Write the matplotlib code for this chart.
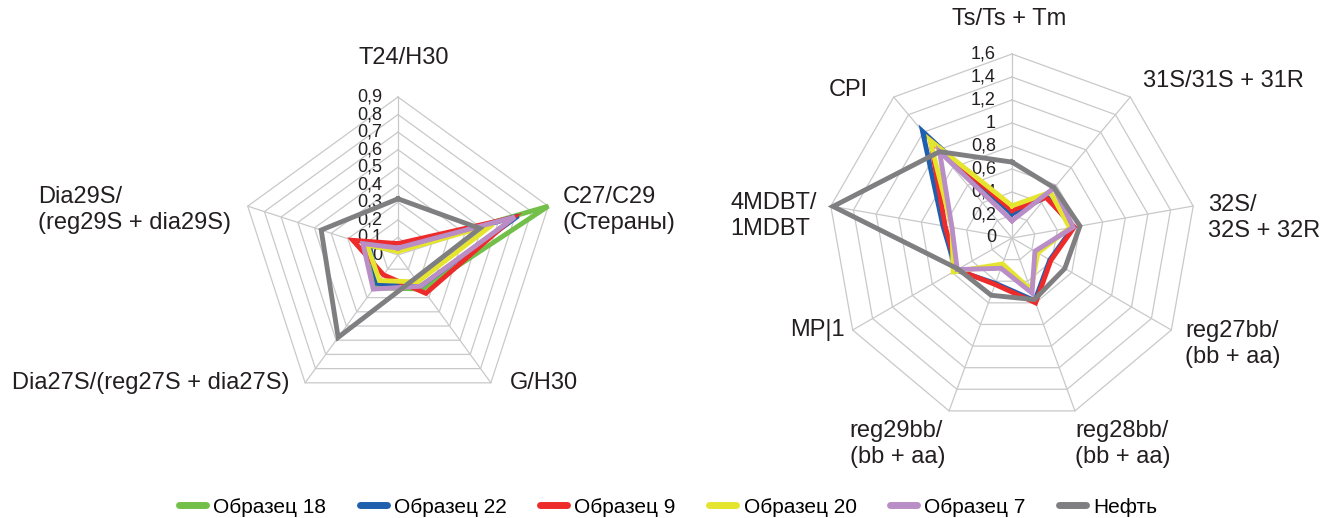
import numpy as np
import matplotlib
matplotlib.use('Agg')
import matplotlib.pyplot as plt
from matplotlib.lines import Line2D
from matplotlib.transforms import offset_copy

plt.rcParams['font.family'] = ['Liberation Sans', 'DejaVu Sans']

# ---- data -------------------------------------------------------------
series_names = ['Образец 18', 'Образец 22', 'Образец 9', 'Образец 20', 'Образец 7', 'Нефть']
series_colors = ['#72bf4a', '#1f5fae', '#ed2b2b', '#e5e52f', '#b98dc6', '#7f7f81']

left_categories = ['T24/H30', 'C27/C29\n(Стераны)', 'G/H30',
                   'Dia27S/(reg27S + dia27S)', 'Dia29S/\n(reg29S + dia29S)']
left_s18 = [0.03, 0.90, 0.24, 0.23, 0.20]
left_s22 = [0.03, 0.72, 0.22, 0.20, 0.17]
left_s9 = [0.065, 0.69, 0.27, 0.14, 0.27]
left_s20 = [0.02, 0.57, 0.19, 0.18, 0.185]
left_s7 = [0.04, 0.70, 0.22, 0.24, 0.21]
left_oil = [0.32, 0.49, 0.165, 0.58, 0.46]
left_ticks = [0, 0.1, 0.2, 0.3, 0.4, 0.5, 0.6, 0.7, 0.8, 0.9]

right_categories = ['Ts/Ts + Tm', '31S/31S + 31R', '32S/\n32S + 32R',
                    'reg27bb/\n(bb + aa)', 'reg28bb/\n(bb + aa)', 'reg29bb/\n(bb + aa)',
                    'MP|1', '4MDBT/\n1MDBT', 'CPI']
right_s22 = [0.21, 0.47, 0.54, 0.38, 0.58, 0.42, 0.56, 0.61, 1.21]
right_s9 = [0.24, 0.46, 0.55, 0.39, 0.60, 0.43, 0.55, 0.59, 1.10]
right_s20 = [0.28, 0.52, 0.51, 0.26, 0.48, 0.24, 0.59, 0.53, 1.11]
right_s7 = [0.15, 0.57, 0.54, 0.23, 0.51, 0.28, 0.55, 0.53, 0.98]
right_oil = [0.66, 0.57, 0.60, 0.53, 0.57, 0.53, 0.54, 1.58, 0.98]
right_ticks = [0, 0.2, 0.4, 0.6, 0.8, 1.0, 1.2, 1.4, 1.6]

GRID = '#c9c9c9'


def fmt(v):
    s = ('%.1f' % v).rstrip('0').rstrip('.')
    return s.replace('.', ',')


def radar(fig, rect, cats, data, colors, ticks, label_pos):
    ax = fig.add_axes(rect, projection='polar')
    ax.set_theta_zero_location('N')
    ax.set_theta_direction(-1)
    ax.set_ylim(0, ticks[-1])
    ax.set_axis_off()

    n = len(cats)
    theta = np.arange(n) * 2 * np.pi / n
    tc = np.append(theta, theta[0])

    # polygon grid
    for r in ticks[1:]:
        ax.plot(tc, [r] * (n + 1), color=GRID, lw=0.9, zorder=1, clip_on=False)
    for t in theta:
        ax.plot([t, t], [0, ticks[-1]], color=GRID, lw=0.9, zorder=1, clip_on=False)

    # series
    for vals, c in zip(data, colors):
        if vals is None:
            continue
        ax.plot(tc, list(vals) + [vals[0]], color=c, lw=3.5, zorder=3,
                solid_joinstyle='miter', clip_on=False)

    # value labels along the first axis
    tr = offset_copy(ax.transData, x=-16, y=0, units='dots')
    for r in ticks:
        ax.text(0, r, fmt(r), transform=tr, ha='right', va='center',
                fontsize=13, color='#231f20', zorder=2)

    # category labels
    for lab, (x, y, ha) in zip(cats, label_pos):
        ax.text(x, y, lab, transform=ax.transAxes, ha=ha, va='center',
                fontsize=17, linespacing=1.25, color='#231f20', multialignment='left')
    return ax


fig = plt.figure(figsize=(13.39, 5.18), dpi=100)

# left radar: centre (398,255) px, radius 158 px
left_pos = [(0.519, 1.123, 'center'), (1.022, 0.642, 'left'), (0.854, 0.095, 'left'),
            (0.158, 0.095, 'right'), (-0.639, 0.642, 'left')]
radar(fig, [240 / 1339, 105 / 518, 316 / 1339, 316 / 518], left_categories,
      [left_s18, left_s22, left_s9, left_s20, left_s7, left_oil],
      series_colors, left_ticks, left_pos)

# right radar: centre (1012,238) px, radius 184 px
right_pos = [(0.492, 1.095, 'center'), (0.856, 0.927, 'left'), (1.033, 0.554, 'left'),
             (0.970, 0.212, 'left'), (0.671, -0.060, 'left'), (0.318, -0.060, 'right'),
             (0.046, 0.250, 'right'), (-0.266, 0.560, 'left'), (0.109, 0.902, 'right')]
radar(fig, [828 / 1339, 96 / 518, 368 / 1339, 368 / 518], right_categories,
      [None, right_s22, right_s9, right_s20, right_s7, right_oil],
      series_colors, right_ticks, right_pos)

handles = [Line2D([], [], color=c, lw=5, solid_capstyle='round') for c in series_colors]
fig.legend(handles, series_names, loc='center', bbox_to_anchor=(0.499, 0.021), ncol=6,
           frameon=False, fontsize=15, handlelength=1.3, handletextpad=0.35,
           columnspacing=1.6)

fig.savefig('out.png', dpi=100)
